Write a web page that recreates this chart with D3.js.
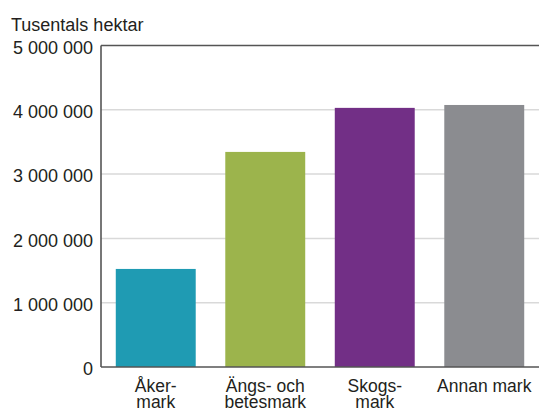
<!DOCTYPE html>
<html>
<head>
<meta charset="utf-8">
<script src="https://cdn.jsdelivr.net/npm/d3@7"></script>
<style>
  body { margin: 0; background: #fff; }
  text { font-family: "Liberation Sans", Arial, sans-serif; fill: #231f20; }
</style>
</head>
<body>
<div id="chart"></div>
<script>
// Markanvändning, tusentals hektar
const categories = [["Åker-", "mark"], ["Ängs- och", "betesmark"], ["Skogs-", "mark"], ["Annan mark"]];
const values = [1525000, 3345000, 4030000, 4075000];
const colors = ["#1f9bb3", "#9cb44c", "#722f86", "#8b8c90"];
const yTicks = [0, 1000000, 2000000, 3000000, 4000000, 5000000];

const W = 539, H = 411;
const margin = { top: 45.5, right: 0, bottom: 44, left: 101 };
const width = W - margin.left - margin.right;
const height = H - margin.top - margin.bottom;

const svg = d3.select("#chart").append("svg")
    .attr("width", W)
    .attr("height", H);

const g = svg.append("g")
    .attr("transform", `translate(${margin.left},${margin.top})`);

const x = d3.scaleBand()
    .domain(d3.range(categories.length))
    .range([0, width])
    .paddingInner(0.27)
    .paddingOuter(0.135);

const y = d3.scaleLinear()
    .domain([0, 5000000])
    .range([height, 0]);

const fmt = d => d3.format(",")(d).replace(/,/g, "\u00a0");

// Gridlines
g.selectAll(".grid")
    .data(yTicks.filter(d => d > 0 && d < 5000000))
    .enter().append("line")
    .attr("x1", 0)
    .attr("x2", width)
    .attr("y1", d => y(d))
    .attr("y2", d => y(d))
    .attr("stroke", "#d9d9d9")
    .attr("stroke-width", 1.5);

// Bars
g.selectAll(".bar")
    .data(values)
    .enter().append("rect")
    .attr("x", (d, i) => x(i))
    .attr("y", d => y(d))
    .attr("width", x.bandwidth())
    .attr("height", d => height - y(d))
    .attr("fill", (d, i) => colors[i]);

// Y tick labels
g.selectAll(".ytick")
    .data(yTicks)
    .enter().append("text")
    .attr("x", -8)
    .attr("y", d => y(d))
    .attr("dy", "0.45em")
    .attr("text-anchor", "end")
    .attr("font-size", "18px")
    .text(d => fmt(d));

// Axis lines: left, top, bottom
g.append("line")
    .attr("x1", 0).attr("x2", 0)
    .attr("y1", y(5000000)).attr("y2", y(0))
    .attr("stroke", "#555").attr("stroke-width", 1.6);

g.append("line")
    .attr("x1", 0).attr("x2", width)
    .attr("y1", y(5000000)).attr("y2", y(5000000))
    .attr("stroke", "#555").attr("stroke-width", 1.6);

g.append("line")
    .attr("x1", 0).attr("x2", width)
    .attr("y1", y(0)).attr("y2", y(0))
    .attr("stroke", "#555").attr("stroke-width", 1.6);

// Category labels
const labels = g.selectAll(".xlabel")
    .data(categories)
    .enter().append("text")
    .attr("text-anchor", "middle")
    .attr("font-size", "17.5px")
    .attr("transform", (d, i) => `translate(${x(i) + x.bandwidth() / 2},${height + 24.5})`);

labels.selectAll("tspan")
    .data(d => d)
    .enter().append("tspan")
    .attr("x", 0)
    .attr("y", (d, i) => i * 16)
    .text(d => d);

// Axis title
svg.append("text")
    .attr("x", 11)
    .attr("y", 30.5)
    .attr("font-size", "18px")
    .text("Tusentals hektar");
</script>
</body>
</html>
